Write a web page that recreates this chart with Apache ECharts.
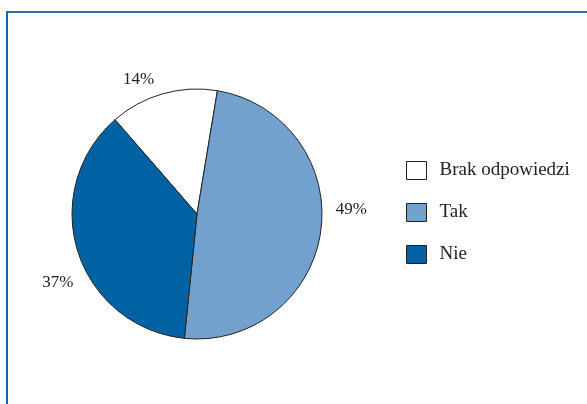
<!DOCTYPE html>
<html>
<head>
<meta charset="utf-8">
<script src="https://cdn.jsdelivr.net/npm/echarts@6/dist/echarts.min.js"></script>
<style>
  html, body { margin: 0; padding: 0; background: #fff; }
  #frame {
    position: absolute;
    left: 6px;
    top: 11px;
    width: 581px;
    height: 393px;
    border-top: 2px solid #2f6ea8;
    border-left: 2px solid #1f62a0;
    box-sizing: border-box;
  }
  #chart { position: absolute; left: 0; top: 0; width: 587px; height: 404px; }
</style>
</head>
<body>
<div id="frame"></div>
<div id="chart"></div>
<script>
const categories = ['Brak odpowiedzi', 'Tak', 'Nie']
const values = [14, 49, 37]
const colors = ['#ffffff', '#72a1cd', '#0062a3']

// label nudges so the percentages sit where the original put them
const labelShift = [[-1, -5], [0, -22], [10, 28]]

const chart = echarts.init(document.getElementById('chart'))

chart.setOption({
  animation: false,
  textStyle: { fontFamily: 'Liberation Serif' },
  legend: {
    orient: 'vertical',
    left: 401,
    top: 156,
    itemWidth: 20,
    itemHeight: 18,
    itemGap: 23,
    icon: 'rect',
    itemStyle: { borderColor: '#222', borderWidth: 1 },
    textStyle: { fontSize: 19, color: '#222', fontFamily: 'Liberation Serif', padding: [0, 0, 0, 8] },
    data: categories
  },
  series: [
    {
      type: 'pie',
      center: [197, 214],
      radius: 125,
      startAngle: 131,
      clockwise: true,
      itemStyle: { borderColor: '#222', borderWidth: 1 },
      label: {
        show: true,
        position: 'outside',
        formatter: '{c}%',
        fontSize: 17,
        color: '#222',
        fontFamily: 'Liberation Serif'
      },
      labelLine: { show: false, length: 10, length2: 0 },
      labelLayout: params => ({
        dx: labelShift[params.dataIndex][0],
        dy: labelShift[params.dataIndex][1]
      }),
      emphasis: { disabled: true },
      data: categories.map((name, i) => ({
        name,
        value: values[i],
        itemStyle: { color: colors[i] }
      }))
    }
  ]
})
</script>
</body>
</html>
